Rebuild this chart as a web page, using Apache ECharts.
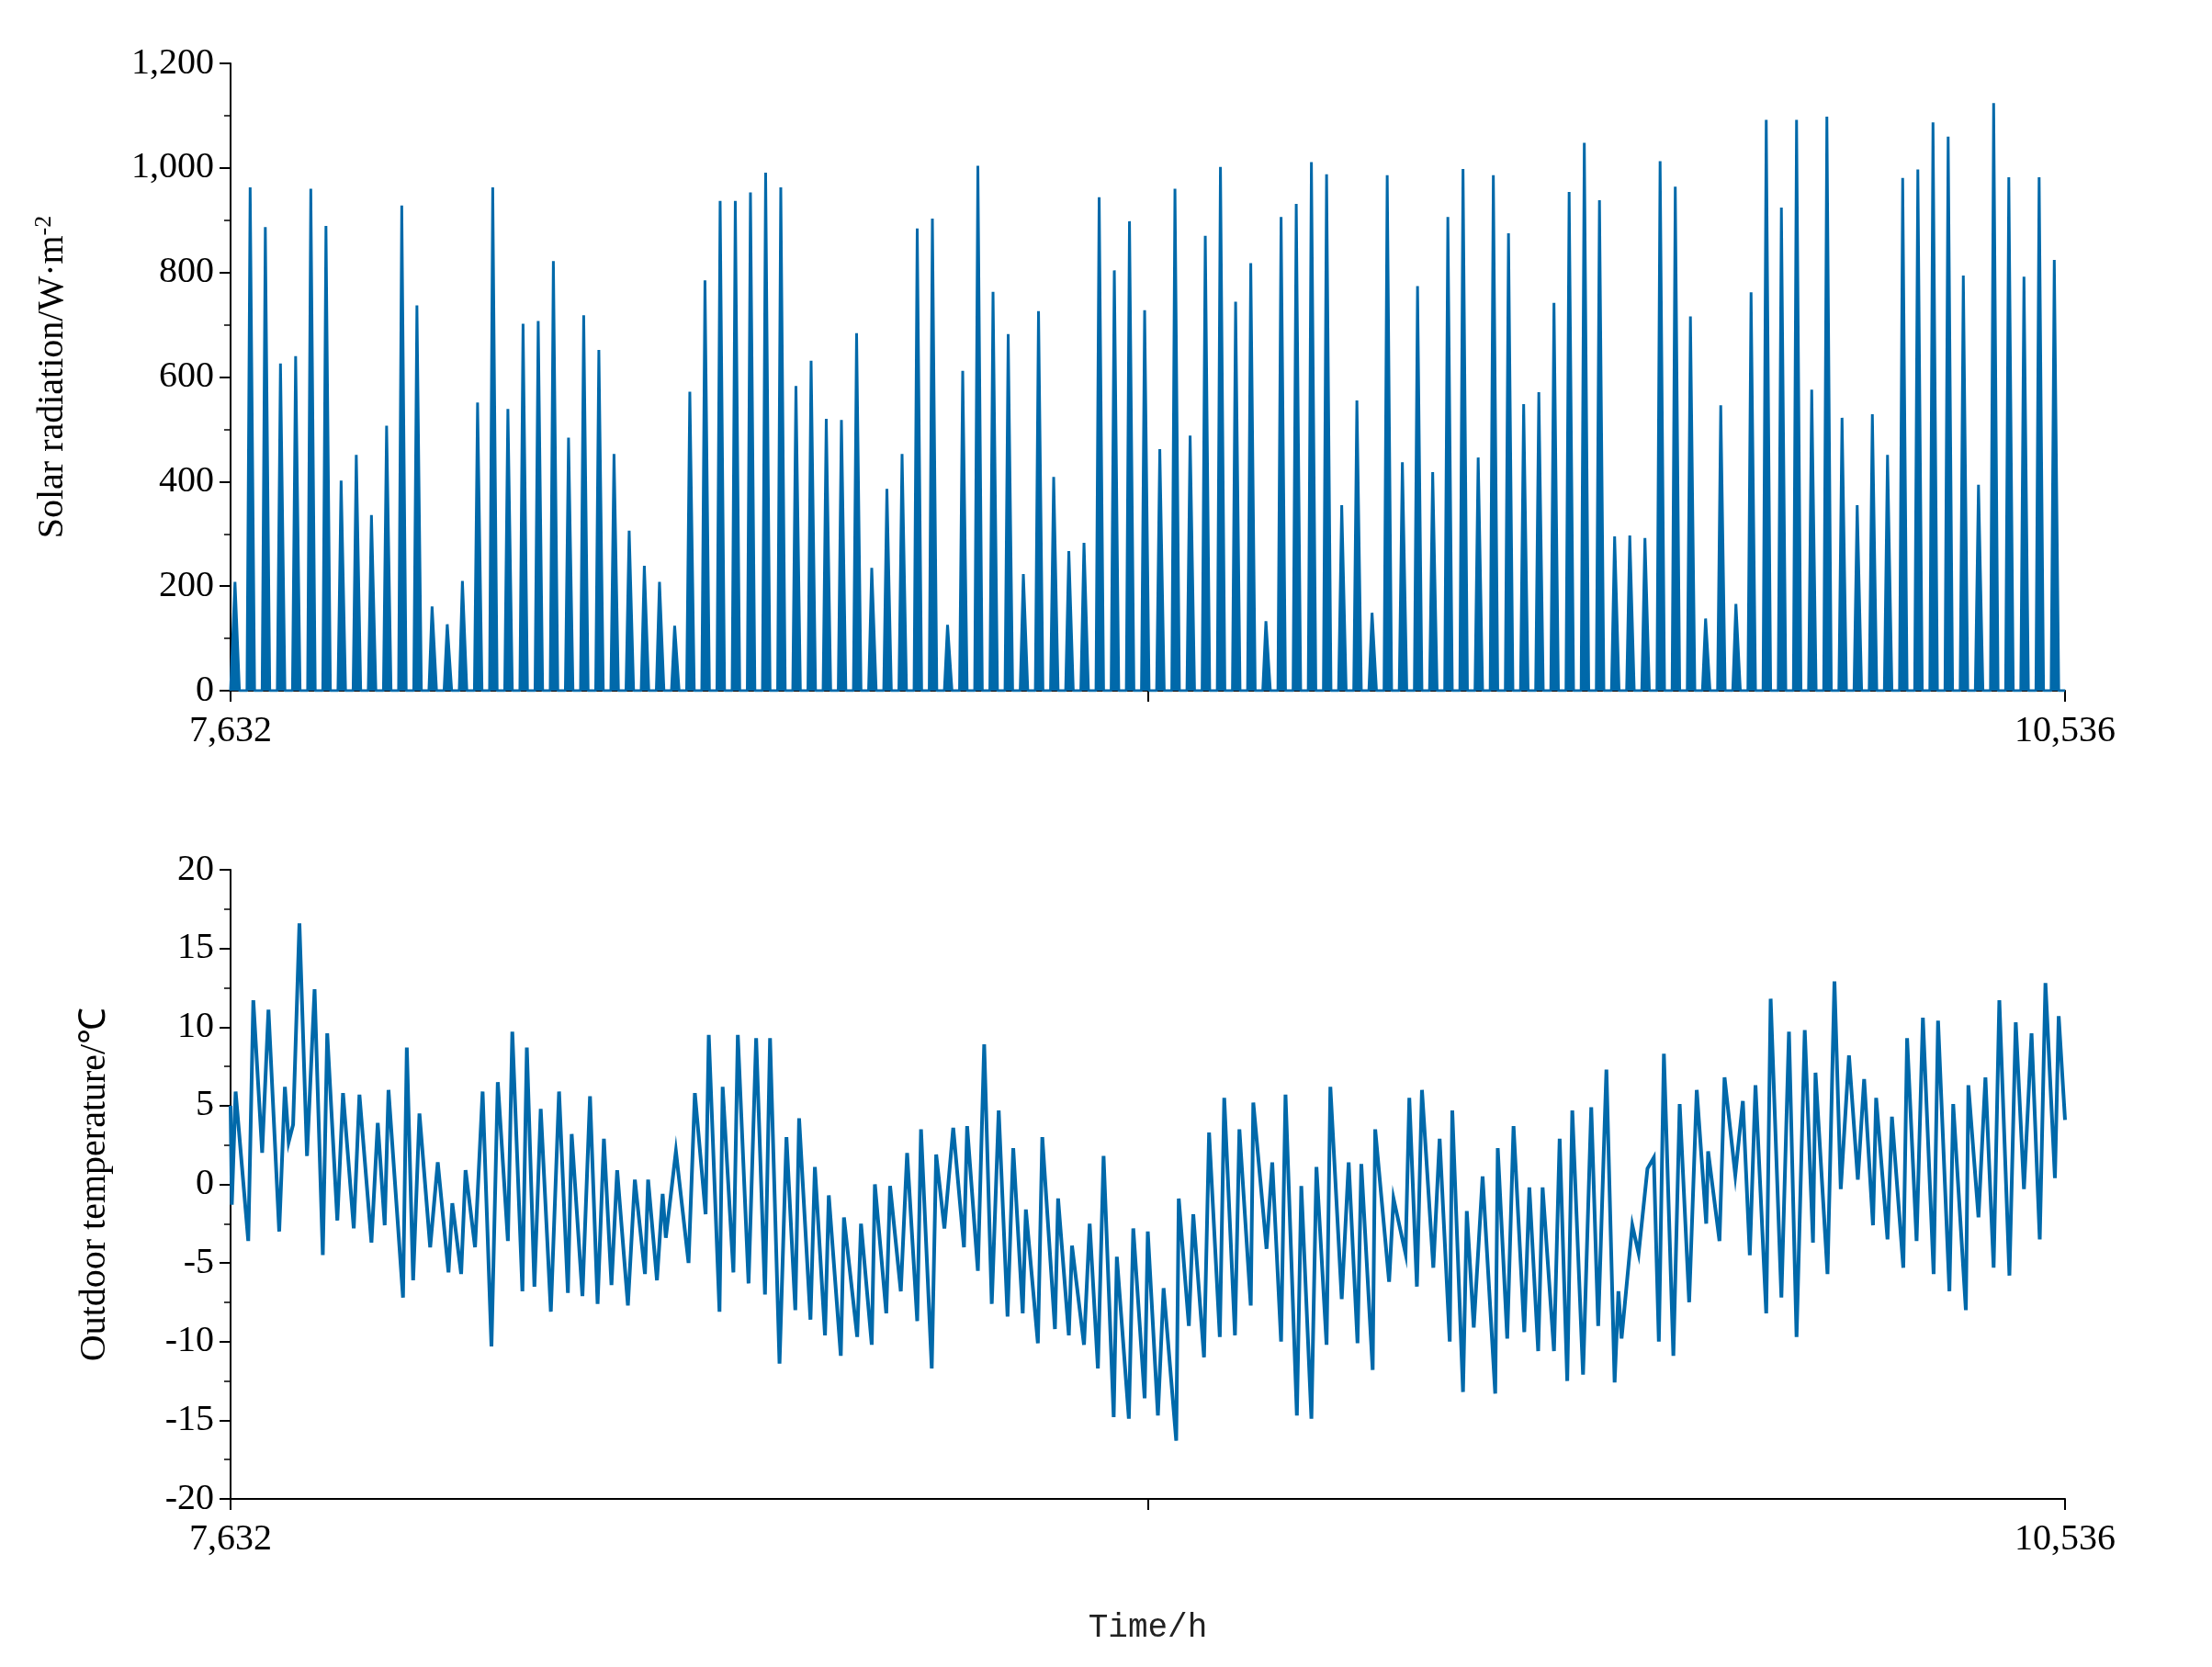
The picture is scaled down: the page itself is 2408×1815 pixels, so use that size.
<!DOCTYPE html>
<html>
<head>
<meta charset="utf-8">
<script src="https://cdn.jsdelivr.net/npm/echarts@6/dist/echarts.min.js"></script>
<style>
  html, body { margin: 0; padding: 0; background: #fff; }
  #chart { width: 2408px; height: 1815px; }
</style>
</head>
<body>
<div id="chart"></div>
<script>
var START_HOUR = 7632;
var END_HOUR = 10536;
var X_LABELS = [7632, 10536];
var X_TICKS = [7632, 9084, 10536];

// daily peak solar radiation, W/m2 (one per day, 121 days)
var solarPeaks = [
    208, 963, 887, 626, 640, 960, 889, 402, 451, 336, 507, 928, 737, 161, 127, 210,
    551, 963, 539, 702, 707, 822, 484, 718, 652, 453, 306, 239, 208, 124, 572,
    785, 937, 937, 953, 991, 963, 583, 631, 520, 518, 684, 235, 386, 453, 884, 903,
    126, 612, 1004, 763, 682, 223, 726, 409, 267, 283, 944, 804, 898, 728, 462,
    960, 488, 870, 1002, 744, 818, 133, 906, 931, 1011, 988, 355, 555, 149, 986, 437,
    774, 418, 906, 998, 446, 986, 875, 548, 571, 742, 954, 1048, 938, 295, 297,
    292, 1013, 964, 716, 138, 546, 166, 762, 1092, 924, 1092, 576, 1098, 522, 355,
    529, 451, 981, 997, 1087, 1060, 794, 394, 1124, 982, 792, 982, 824
];
var solarPeakHour = 8; // hour of day of the peak, relative to 7632

// outdoor temperature extremes: hour offset from 7632, value in degC
var tempHours = [
    0, 2, 8, 28, 36, 50, 60, 77, 86, 92, 99, 109, 121, 133, 146, 153, 169, 178, 195, 204,
    223, 233, 244, 250, 273, 279, 289, 299, 316, 328, 345, 351, 365, 372, 387, 399, 413, 423,
    439, 446, 462, 469, 481, 491, 507, 520, 534, 540, 557, 569, 581, 591, 603, 612, 629, 640,
    656, 661, 675, 684, 689, 705, 725, 735, 752, 757,
    774, 779, 796, 803, 820, 832, 846, 854, 869, 880, 894, 900, 918, 925, 941, 947, 966, 971,
    992, 998, 1015, 1020, 1038, 1044, 1061, 1071, 1087, 1093, 1110, 1117, 1130, 1144, 1161,
    1166, 1183, 1193, 1205, 1216, 1230, 1239, 1254, 1259, 1278, 1285, 1305, 1310, 1327, 1332,
    1351, 1360, 1373, 1382, 1398, 1403, 1422, 1429, 1447, 1452, 1468, 1477, 1497, 1501,
    1517, 1524, 1541, 1549, 1566, 1573, 1590, 1597, 1615, 1619, 1640, 1649, 1663, 1670, 1688,
    1695, 1711, 1719, 1735, 1741, 1759, 1770, 1784, 1790, 1808, 1812, 1834, 1841, 1860, 1866,
    1878, 1886, 1904, 1914, 1930, 1934, 1951, 1957, 1968, 1982, 2002, 2006, 2021, 2031, 2048,
    2056, 2070, 2077, 2095, 2104, 2116, 2124, 2141, 2154, 2165, 2178, 2191, 2197, 2202, 2219,
    2229, 2243,
    2253, 2261, 2269, 2284, 2294, 2309, 2321, 2336, 2339, 2357, 2365, 2382, 2394, 2405, 2414,
    2431, 2438, 2455, 2467, 2479, 2492, 2505, 2509, 2528, 2539, 2549, 2562, 2576, 2586, 2600,
    2605, 2623, 2630, 2648, 2654, 2669, 2679, 2696, 2703, 2721, 2727, 2747, 2751, 2767, 2778,
    2791, 2800, 2816, 2826, 2839, 2851, 2864, 2873, 2888, 2894, 2904
];
var tempValues = [
    5.0, -1.3, 5.9, -3.6, 11.7, 2.0, 11.1, -3.0, 6.2, 2.7, 3.8, 16.6, 1.8, 12.4, -4.5, 9.6, -2.3, 5.8, -2.8, 5.7,
    -3.7, 3.9, -2.6, 6.0, -7.2, 8.7, -6.1, 4.5, -4.0, 1.4, -5.6, -1.2, -5.7, 0.9, -4.0, 5.9, -10.3, 6.5,
    -3.6, 9.7, -6.8, 8.7, -6.5, 4.8, -8.1, 5.9, -6.9, 3.2, -7.1, 5.6, -7.6, 2.9, -6.4, 0.9, -7.7, 0.3,
    -5.7, 0.3, -6.1, -0.6, -3.4, 2.1, -5.0, 5.8, -1.9, 9.5,
    -8.1, 6.2, -5.6, 9.5, -6.3, 9.3, -7.0, 9.3, -11.4, 3.0, -8.0, 4.2, -8.6, 1.1, -9.6, -0.7, -10.9, -2.1,
    -9.7, -2.5, -10.2, 0.0, -8.2, -0.1, -6.8, 2.0, -8.7, 3.5, -11.7, 1.9, -2.8, 3.6, -4.0,
    3.7, -5.5, 8.9, -7.6, 4.7, -8.4, 2.3, -8.2, -1.6, -10.1, 3.0, -9.2, -0.9, -9.6, -3.9,
    -10.2, -2.5, -11.7, 1.8, -14.8, -4.6, -14.9, -2.8, -13.6, -3.0, -14.7, -6.6, -16.3, -0.9,
    -9.0, -1.9, -11.0, 3.3, -9.7, 5.5, -9.6, 3.5, -7.7, 5.2, -4.1, 1.4, -10.0, 5.7, -14.7,
    -0.1, -14.9, 1.1, -10.2, 6.2, -7.3, 1.4, -10.1, 1.3, -11.8, 3.5, -6.2, -0.9, -4.4, 5.5,
    -6.5, 6.0, -5.3, 2.9, -10.0, 4.7, -13.2, -1.7, -9.1, 0.5, -13.3, 2.3, -9.8, 3.7, -9.4,
    -0.2, -10.6, -0.2, -10.6, 2.9, -12.5, 4.7, -12.1, 4.9, -9.0, 7.3, -12.6, -6.8, -9.8, -2.6,
    -4.4, 1.0,
    1.7, -10.0, 8.3, -10.9, 5.1, -7.5, 6.0, -2.5, 2.1, -3.6, 6.8, 0.6, 5.3, -4.5, 6.3,
    -8.2, 11.8, -7.2, 9.7, -9.7, 9.8, -3.7, 7.1, -5.7, 12.9, -0.3, 8.2, 0.3, 6.7, -2.6,
    5.5, -3.5, 4.3, -5.3, 9.3, -3.6, 10.6, -5.7, 10.4, -6.8, 5.1, -8.0, 6.3, -2.1, 6.8,
    -5.3, 11.7, -5.8, 10.3, -0.3, 9.6, -3.5, 12.8, 0.4, 10.7, 4.1
];

var BLUE = '#0069AA';
var SERIF = '"Liberation Serif", "Times New Roman", serif';

function fmt(v) { return Number(v).toLocaleString('en-US'); }

function solarData() {
    var pts = [[START_HOUR, 0]];
    for (var d = 0; d < solarPeaks.length; d++) {
        var t = START_HOUR + d * 24 + solarPeakHour;
        var p = solarPeaks[d];
        pts.push([t - 6, 0], [t - 1, p], [t + 1, p], [Math.min(t + 6, END_HOUR), 0]);
    }
    pts.push([END_HOUR, 0]);
    return pts;
}

function tempData() {
    return tempHours.map(function (h, i) { return [START_HOUR + h, tempValues[i]]; });
}

function xAxisFor(gridIndex, withName) {
    return {
        gridIndex: gridIndex,
        type: 'value',
        min: START_HOUR,
        max: END_HOUR,
        name: withName ? 'Time/h' : '',
        nameLocation: 'middle',
        nameGap: 122,
        nameTextStyle: { fontFamily: '"Liberation Mono", monospace', fontSize: 36, color: '#222' },
        axisLine: { show: true, onZero: false, lineStyle: { color: '#000', width: 2 } },
        axisTick: { show: true, length: 12, lineStyle: { color: '#000', width: 2 }, customValues: X_TICKS },
        axisLabel: {
            fontFamily: SERIF, fontSize: 40, color: '#000', margin: 24,
            customValues: X_LABELS,
            formatter: fmt
        },
        splitLine: { show: false }
    };
}

function yAxisFor(gridIndex, name, min, max, interval, gap, useComma) {
    return {
        gridIndex: gridIndex,
        type: 'value',
        min: min,
        max: max,
        interval: interval,
        name: name,
        nameLocation: 'middle',
        nameGap: gap,
        nameRotate: 90,
        nameTextStyle: { fontFamily: SERIF, fontSize: 40, color: '#000', rich: {
            sup: { fontFamily: SERIF, fontSize: 26, color: '#000', verticalAlign: 'top', padding: [0, 0, 18, 0] }
        } },
        axisLine: { show: true, onZero: false, lineStyle: { color: '#000', width: 2 } },
        axisTick: { show: true, length: 12, lineStyle: { color: '#000', width: 2 } },
        minorTick: { show: true, splitNumber: 2, length: 7, lineStyle: { color: '#000', width: 1.5 } },
        axisLabel: {
            fontFamily: SERIF, fontSize: 40, color: '#000', margin: 18,
            formatter: useComma ? fmt : function (v) { return String(v); }
        },
        splitLine: { show: false }
    };
}

var chart = echarts.init(document.getElementById('chart'), null, { renderer: 'canvas' });
chart.setOption({
    backgroundColor: '#fff',
    animation: false,
    grid: [
        { left: 251, right: 160, top: 69, height: 683 },
        { left: 251, right: 160, top: 947, height: 685 }
    ],
    xAxis: [xAxisFor(0, false), xAxisFor(1, true)],
    yAxis: [
        yAxisFor(0, 'Solar radiation/W·m{sup|-2}', 0, 1200, 200, 172, true),
        yAxisFor(1, 'Outdoor temperature/℃', -20, 20, 5, 128, false)
    ],
    series: [
        {
            type: 'line', xAxisIndex: 0, yAxisIndex: 0,
            data: solarData(), showSymbol: false,
            lineStyle: { color: BLUE, width: 3 },
            areaStyle: { color: BLUE, opacity: 1 },
            clip: true
        },
        {
            type: 'line', xAxisIndex: 1, yAxisIndex: 1,
            data: tempData(), showSymbol: false,
            lineStyle: { color: BLUE, width: 4, join: 'miter' },
            clip: true
        }
    ]
});
</script>
</body>
</html>
